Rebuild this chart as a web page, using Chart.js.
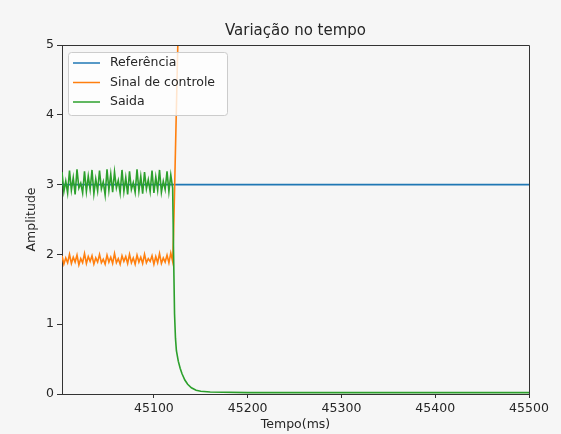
<!DOCTYPE html>
<html>
<head>
<meta charset="utf-8">
<script src="https://cdn.jsdelivr.net/npm/chart.js@4.4.0/dist/chart.umd.min.js"></script>
<style>
  html, body { margin: 0; padding: 0; background: #f6f6f6; }
  canvas { display: block; }
</style>
</head>
<body>
<canvas id="chart" width="561" height="434"></canvas>
<script>
// Time samples (ms) for the noisy part before the transition
const noiseTime = [
  45002, 45004, 45006, 45008, 45010, 45012, 45014, 45016, 45018, 45020,
  45022, 45024, 45026, 45028, 45030, 45032, 45034, 45036, 45038, 45040,
  45042, 45044, 45046, 45048, 45050, 45052, 45054, 45056, 45058, 45060,
  45062, 45064, 45066, 45068, 45070, 45072, 45074, 45076, 45078, 45080,
  45082, 45084, 45086, 45088, 45090, 45092, 45094, 45096, 45098, 45100,
  45102, 45104, 45106, 45108, 45110, 45112, 45114, 45116, 45118, 45120
];

const saidaNoise = [
  3.18, 2.90, 3.05, 2.88, 3.20, 2.92, 3.10, 2.86, 3.22, 2.95,
  3.02, 2.88, 3.19, 2.90, 3.12, 2.93, 3.21, 2.87, 3.08, 2.91,
  3.20, 2.94, 3.04, 2.85, 3.22, 2.92, 3.15, 2.89, 3.18, 2.95,
  3.06, 2.88, 3.21, 2.90, 3.10, 2.86, 3.19, 2.93, 3.03, 2.89,
  3.22, 2.91, 3.12, 2.87, 3.18, 2.94, 3.07, 2.90, 3.20, 2.88,
  3.11, 2.92, 3.21, 2.89, 3.05, 2.93, 3.19, 2.90, 3.14, 2.95
];

const controleNoise = [
  1.98, 1.86, 1.95, 1.88, 2.00, 1.87, 1.96, 1.89, 1.99, 1.85,
  1.94, 1.88, 2.01, 1.87, 1.97, 1.90, 1.98, 1.86, 1.95, 1.89,
  2.00, 1.88, 1.93, 1.86, 1.99, 1.89, 1.96, 1.87, 2.01, 1.88,
  1.94, 1.86, 1.98, 1.90, 1.97, 1.87, 2.00, 1.88, 1.95, 1.86,
  1.99, 1.89, 1.96, 1.87, 2.00, 1.88, 1.94, 1.90, 1.98, 1.86,
  1.97, 1.88, 2.01, 1.87, 1.95, 1.89, 1.99, 1.88, 2.02, 1.90
];

// After the transition
const saidaTailTime = [45121, 45122, 45123, 45124, 45126, 45128, 45130, 45133, 45136, 45140, 45145, 45150, 45160, 45200, 45300, 45400, 45500];
const saidaTail     = [2.00,  1.15,  0.80,  0.62,  0.47,  0.37,  0.29,  0.20,  0.14,  0.09,  0.055, 0.04,  0.028, 0.02,  0.02,  0.02,  0.02];

const controleTailTime = [45121, 45122, 45123, 45124, 45125, 45126, 45128, 45130, 45135, 45150, 45200, 45300, 45400, 45500];
const controleTail     = [2.30,  2.90,  3.50,  4.10,  4.70,  5.30,  6.50,  7.60,  10.0,  14.0,  18.0,  20.0,  20.5,  20.7];

const referenciaTime = [45002, 45500];
const referencia     = [3, 3];

const xTicks = [45100, 45200, 45300, 45400, 45500];
const yTicks = [0, 1, 2, 3, 4, 5];

const FONT = 'DejaVu Sans';
const TEXT = '#262626';
const AXIS = '#333333';

function toPoints(xs, ys) {
  return xs.map((x, i) => ({ x: x, y: ys[i] }));
}

const series = [
  { label: 'Referência', color: '#1f77b4', data: toPoints(referenciaTime, referencia), order: 2 },
  { label: 'Sinal de controle', color: '#ff7f0e', data: toPoints(noiseTime.concat(controleTailTime), controleNoise.concat(controleTail)), order: 1 },
  { label: 'Saida', color: '#2ca02c', data: toPoints(noiseTime.concat(saidaTailTime), saidaNoise.concat(saidaTail)), order: 0 }
];

// frame, title and matplotlib-like legend inside the axes
const decorations = {
  id: 'decorations',
  beforeDraw(chart) {
    const ctx = chart.ctx;
    ctx.save();
    ctx.fillStyle = '#f6f6f6';
    ctx.fillRect(0, 0, chart.width, chart.height);
    ctx.restore();
  },
  afterDatasetsDraw(chart) {
    const ctx = chart.ctx;
    const a = chart.chartArea;
    ctx.save();
    ctx.strokeStyle = AXIS;
    ctx.lineWidth = 1;
    ctx.beginPath();
    ctx.moveTo(a.left, a.top + 0.5);
    ctx.lineTo(a.right + 0.5, a.top + 0.5);
    ctx.lineTo(a.right + 0.5, a.bottom);
    ctx.stroke();

    // title
    ctx.fillStyle = TEXT;
    ctx.font = '15px "' + FONT + '"';
    ctx.textAlign = 'center';
    ctx.textBaseline = 'middle';
    ctx.fillText('Variação no tempo', (a.left + a.right) / 2, 31);

    // legend
    const bx = a.left + 6, by = a.top + 7, bw = 159, bh = 63;
    ctx.beginPath();
    ctx.roundRect(bx + 0.5, by + 0.5, bw, bh, 3);
    ctx.fillStyle = 'rgba(255,255,255,0.8)';
    ctx.fill();
    ctx.strokeStyle = '#cccccc';
    ctx.stroke();
    ctx.font = '12.5px "' + FONT + '"';
    ctx.textAlign = 'left';
    series.forEach((s, i) => {
      const y = by + 11 + i * 19.5;
      ctx.strokeStyle = s.color;
      ctx.lineWidth = 1.5;
      ctx.beginPath();
      ctx.moveTo(bx + 5, y);
      ctx.lineTo(bx + 32, y);
      ctx.stroke();
      ctx.fillStyle = TEXT;
      ctx.fillText(s.label, bx + 42, y);
    });
    ctx.restore();
  }
};

new Chart(document.getElementById('chart'), {
  type: 'line',
  data: {
    datasets: series.map(s => ({
      label: s.label,
      data: s.data,
      borderColor: s.color,
      backgroundColor: s.color,
      borderWidth: 1.6,
      pointRadius: 0,
      tension: 0,
      fill: false,
      order: s.order
    }))
  },
  options: {
    responsive: false,
    animation: false,
    devicePixelRatio: 1,
    layout: { padding: { top: 45, right: 32, bottom: 0, left: 0 } },
    plugins: {
      legend: { display: false },
      title: { display: false },
      tooltip: { enabled: false }
    },
    scales: {
      x: {
        type: 'linear',
        min: 45002,
        max: 45500,
        afterBuildTicks: axis => { axis.ticks = xTicks.map(v => ({ value: v })); },
        afterFit: axis => { axis.height = 40; },
        ticks: {
          autoSkip: false,
          maxRotation: 0,
          padding: 3,
          color: TEXT,
          font: { family: FONT, size: 12.5 },
          callback: v => String(v)
        },
        grid: { drawOnChartArea: false, drawTicks: true, tickLength: 4, tickColor: AXIS },
        border: { display: true, color: AXIS, width: 1 },
        title: {
          display: true,
          text: 'Tempo(ms)',
          color: TEXT,
          font: { family: FONT, size: 12.5 },
          padding: { top: 0, bottom: 2 }
        }
      },
      y: {
        type: 'linear',
        min: 0,
        max: 5,
        afterBuildTicks: axis => { axis.ticks = yTicks.map(v => ({ value: v })); },
        afterFit: axis => { axis.width = 62; },
        ticks: {
          padding: 3,
          color: TEXT,
          font: { family: FONT, size: 12.5 },
          callback: v => String(v)
        },
        grid: { drawOnChartArea: false, drawTicks: true, tickLength: 5, tickColor: AXIS },
        border: { display: true, color: AXIS, width: 1 },
        title: {
          display: true,
          text: 'Amplitude',
          color: TEXT,
          font: { family: FONT, size: 12.5 },
          padding: { top: 24, bottom: 0 }
        }
      }
    }
  },
  plugins: [decorations]
});
</script>
</body>
</html>
